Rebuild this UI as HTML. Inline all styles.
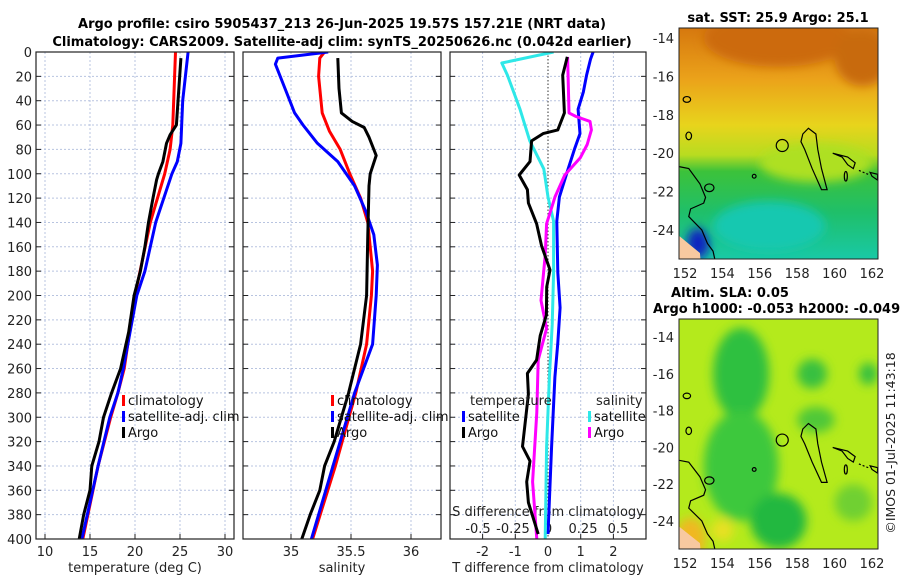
<!DOCTYPE html>
<html><head><meta charset="utf-8"><style>
body{margin:0;background:#fff}
svg{display:block;font-family:"DejaVu Sans","Liberation Sans",sans-serif}
</style></head><body>
<svg id="c" width="900" height="580" viewBox="0 0 900 580">
<defs>
<clipPath id="cp1"><rect x="36" y="52" width="198" height="487"/></clipPath>
<clipPath id="cp2"><rect x="243" y="52" width="198" height="487"/></clipPath>
<clipPath id="cp3"><rect x="450" y="52" width="196" height="487"/></clipPath>
<clipPath id="cm1"><rect x="679" y="28" width="199" height="231"/></clipPath>
<clipPath id="cm2"><rect x="679" y="319" width="199" height="230"/></clipPath>
<linearGradient id="sstg" x1="0" y1="0" x2="0" y2="1">
<stop offset="0" stop-color="#d6780e"/><stop offset="0.22" stop-color="#eba21a"/><stop offset="0.42" stop-color="#e8d41c"/><stop offset="0.55" stop-color="#b8dc20"/><stop offset="0.62" stop-color="#3cc23a"/><stop offset="0.8" stop-color="#1fbf6a"/><stop offset="1" stop-color="#19c9a6"/>
</linearGradient>
<filter id="bl"><feGaussianBlur stdDeviation="5"/></filter>
</defs>
<g font-weight="bold" font-size="13" text-anchor="middle" fill="#000">
<text x="342" y="28">Argo profile: csiro 5905437_213 26-Jun-2025 19.57S 157.21E (NRT data)</text>
<text x="342" y="46">Climatology: CARS2009. Satellite-adj clim: synTS_20250626.nc (0.042d earlier)</text>
</g>
<g id="axes"></g>
<g id="maps"></g>
</svg>
<script>
// ---- data (depth in m) ----
const depthTicks=[0,20,40,60,80,100,120,140,160,180,200,220,240,260,280,300,320,340,360,380,400];
const tTicks=[10,15,20,25,30];
const sTicks=[35,35.5,36];
const dtTicks=[-2,-1,0,1,2];
const dsTicks=[-0.5,-0.25,0,0.25,0.5];
const dsTickLabels=["-0.5","-0.25","0","0.25","0.5"];
// temperature panel
const tClimD=[0,60,80,100,140,200,260,280,300,340,400];
const tClimV=[24.5,24.2,23.9,23.3,21.7,20.0,18.8,18.1,17.3,15.9,14.2];
const tSatD=[0,20,40,75,90,100,140,180,200,260,280,300,340,400];
const tSatV=[25.9,25.6,25.3,25.1,24.7,24.1,22.3,21.1,20.2,18.7,18.1,17.2,15.9,14.1];
const tArgoD=[5,60,68,75,90,100,105,120,140,160,180,200,230,260,280,300,320,340,360,380,400];
const tArgoV=[25.1,24.6,23.9,23.5,23.1,22.6,22.4,22.0,21.5,21.1,20.6,19.9,19.3,18.4,17.4,16.5,16.0,15.2,15.0,14.3,13.8];
// salinity panel
const sClimD=[0,5,20,50,65,80,100,120,140,180,200,240,280,340,400];
const sClimV=[35.28,35.24,35.23,35.26,35.32,35.41,35.49,35.58,35.64,35.68,35.67,35.63,35.54,35.37,35.18];
const sSatD=[0,5,10,30,50,60,75,90,110,130,150,175,200,240,280,340,400];
const sSatV=[35.31,34.89,34.87,34.95,35.03,35.10,35.22,35.39,35.53,35.62,35.69,35.72,35.71,35.68,35.53,35.35,35.17];
const sArgoD=[5,30,50,57,62,70,85,100,110,150,200,240,280,320,340,360,380,400];
const sArgoV=[35.39,35.40,35.42,35.51,35.61,35.65,35.71,35.66,35.65,35.64,35.63,35.58,35.48,35.36,35.28,35.24,35.16,35.09];
// difference panel
const dtSatD=[0,6,19,33,47,67,79,99,119,139,181,210,239,267,324,396];
const dtSatV=[1.38,1.3,1.18,1.08,0.92,0.98,0.82,0.58,0.35,0.27,0.3,0.37,0.3,0.21,0.11,0.0];
const dtArgoD=[4,19,50,64,67,73,90,101,113,124,141,159,179,193,216,233,253,264,281,324,336,353,370,396];
const dtArgoV=[0.59,0.45,0.5,0.3,-0.15,-0.5,-0.55,-0.88,-0.63,-0.6,-0.35,-0.2,0.06,-0.04,-0.05,-0.24,-0.35,-0.63,-0.6,-0.78,-0.55,-0.65,-0.6,-0.3];
const dsSatD=[0,9,19,47,73,96,119,139,181,224,267,324,400];
const dsSatV=[0.04,-0.33,-0.29,-0.2,-0.13,-0.03,0.0,0.04,0.04,0.03,0.01,-0.01,-0.02];
const dsArgoD=[4,50,53,57,64,76,87,101,119,141,167,204,227,253,296,353,400];
const dsArgoV=[0.14,0.15,0.2,0.3,0.31,0.28,0.23,0.12,0.05,-0.01,-0.02,-0.05,-0.01,-0.07,-0.08,-0.11,-0.08];

const NS='http://www.w3.org/2000/svg';
const yD=d=>52+d*487/400;
const xT=v=>45+(v-10)*9;
const xS=v=>291+(v-35)*120;
const xDT=v=>548+v*32.7;
const xDS=v=>548+v*140;
const ax=document.getElementById('axes');
function el(tag,attrs,parent){const e=document.createElementNS(NS,tag);for(const k in attrs)e.setAttribute(k,attrs[k]);(parent||ax).appendChild(e);return e;}
function txt(x,y,s,anchor,size,parent){const t=el('text',{x:x,y:y,'text-anchor':anchor||'middle','font-size':size||13,fill:'#222'},parent);t.textContent=s;return t;}

const panels=[{x0:36,w:198},{x0:243,w:198},{x0:450,w:196}];
panels.forEach((p,i)=>{
  depthTicks.forEach(d=>{
    const g=el('line',{x1:p.x0,x2:p.x0+p.w,y1:yD(d),y2:yD(d),stroke:'#b8c4e0','stroke-width':1,'stroke-dasharray':'2,2'});
    
    
    el('line',{x1:p.x0,x2:p.x0+5,y1:yD(d),y2:yD(d),stroke:'#222'});
    el('line',{x1:p.x0+p.w-5,x2:p.x0+p.w,y1:yD(d),y2:yD(d),stroke:'#222'});
  });
});
depthTicks.forEach(d=>{const t=txt(32,yD(d)+5,String(d),'end',13);

});
function vgrid(xs,fn){xs.forEach(v=>{const g=el('line',{x1:fn(v),x2:fn(v),y1:52,y2:539,stroke:'#b8c4e0','stroke-dasharray':'2,2'});


el('line',{x1:fn(v),x2:fn(v),y1:534,y2:539,stroke:'#222'});});}
vgrid(tTicks,xT);vgrid(sTicks,xS);vgrid([-2,-1,1,2],xDT);
tTicks.forEach(v=>{const t=txt(xT(v),556,String(v));});
sTicks.forEach(v=>{const t=txt(xS(v),556,String(v));});
dtTicks.forEach(v=>{const t=txt(xDT(v),556,String(v));});
dsTicks.forEach((v,i)=>{const t=txt(xDS(v),533,dsTickLabels[i]);});
let t;
t=txt(135,572,'temperature (deg C)');
t=txt(342,572,'salinity');
t=txt(548,572,'T difference from climatology');
t=txt(548,516,'S difference from climatology');
const z=el('line',{x1:548,x2:548,y1:52,y2:539,stroke:'#333','stroke-dasharray':'1.5,2'});


function series(D,V,fx,color,cp,name){
  const pts=D.map((d,i)=>fx(V[i]).toFixed(1)+','+yD(d).toFixed(1)).join(' ');
  const p=el('polyline',{points:pts,fill:'none',stroke:color,'stroke-width':3,'stroke-linejoin':'round','clip-path':'url(#'+cp+')'});
  
  
}
series(tClimD,tClimV,xT,'#f00','cp1','temperature-climatology-line');
series(tSatD,tSatV,xT,'#00f','cp1','temperature-satellite-line');
series(tArgoD,tArgoV,xT,'#000','cp1','temperature-argo-line');
series(sClimD,sClimV,xS,'#f00','cp2','salinity-climatology-line');
series(sSatD,sSatV,xS,'#00f','cp2','salinity-satellite-line');
series(sArgoD,sArgoV,xS,'#000','cp2','salinity-argo-line');
series(dtSatD,dtSatV,xDT,'#00f','cp3','t-diff-satellite-line');
series(dsSatD,dsSatV,xDS,'#2ee8e8','cp3','s-diff-satellite-line');
series(dsArgoD,dsArgoV,xDS,'#f0f','cp3','s-diff-argo-line');
series(dtArgoD,dtArgoV,xDT,'#000','cp3','t-diff-argo-line');
function leg(x,y,color,label,name){
  const r=el('rect',{x:x,y:y-10,width:3,height:11,fill:color});
  
  const tt=txt(x+6,y,label,'start',13);tt.setAttribute('fill','#111');
  
}
leg(122,405,'#f00','climatology','legend-climatology');
leg(122,421,'#00f','satellite-adj. clim','legend-satellite-adj');
leg(122,437,'#000','Argo','legend-argo');
leg(331,405,'#f00','climatology','legend-climatology-2');
leg(331,421,'#00f','satellite-adj. clim','legend-satellite-adj-2');
leg(331,437,'#000','Argo','legend-argo-2');
t=txt(470,405,'temperature','start',13);
leg(462,421,'#00f','satellite','legend-t-satellite');
leg(462,437,'#000','Argo','legend-t-argo');
t=txt(596,405,'salinity','start',13);
leg(588,421,'#2ee8e8','satellite','legend-s-satellite');
leg(588,437,'#f0f','Argo','legend-s-argo');
panels.forEach(p=>{const f=el('rect',{x:p.x0,y:52,width:p.w,height:487,fill:'none',stroke:'#222','stroke-width':1.2});
});

// ---- maps ----
const mg=document.getElementById('maps');
const lonTicks=[152,154,156,158,160,162];
const latTicks=[-14,-16,-18,-20,-22,-24];
function map(y0,h,lat14,latScale,cp,bgFill,blobs,name){
  const lx=l=>685+(l-152)*18.7;
  const ly=l=>lat14+(-14-l)*latScale;
  const g=el('g',{'clip-path':'url(#'+cp+')'},mg);
  
  el('rect',{x:679,y:y0,width:199,height:h,fill:bgFill},g);
  const bg=el('g',{filter:'url(#bl)'},g);
  blobs.forEach(b=>el('ellipse',{cx:lx(b[0]),cy:ly(b[1]),rx:b[2]*18.7,ry:b[3]*latScale,fill:b[4]},bg));
  el('path',{d:`M679,${ly(-24.3)} L${lx(152.3)},${ly(-24.8)} L${lx(152.8)},${ly(-25.2)} L${lx(152.9)},${ly(-26.5)} L679,${ly(-26.5)}Z`,fill:'#f8c9a0'},g);
  const cs={fill:'none',stroke:'#000','stroke-width':1.2};
  el('path',Object.assign({d:`M679,${ly(-20.7)} L${lx(152.2)},${ly(-20.8)} L${lx(152.8)},${ly(-21.6)} L${lx(153.1)},${ly(-22.3)} L${lx(153.0)},${ly(-22.6)} L${lx(152.3)},${ly(-22.9)} L${lx(152.2)},${ly(-23.3)} L${lx(152.9)},${ly(-24.0)} L${lx(153.2)},${ly(-24.7)} L${lx(153.5)},${ly(-25.1)} L${lx(153.7)},${ly(-26)}`},cs),g);
  el('path',Object.assign({d:`M${lx(158.3)},${ly(-19.0)} L${lx(158.6)},${ly(-18.7)} L${lx(159.0)},${ly(-19.0)} L${lx(159.1)},${ly(-19.8)} L${lx(159.3)},${ly(-20.8)} L${lx(159.6)},${ly(-21.9)} L${lx(159.3)},${ly(-21.9)} L${lx(158.8)},${ly(-20.8)} L${lx(158.4)},${ly(-19.8)} L${lx(158.2)},${ly(-19.4)}Z`},cs),g);
  el('path',Object.assign({d:`M${lx(159.9)},${ly(-20.0)} L${lx(160.7)},${ly(-20.2)} L${lx(161.1)},${ly(-20.5)} L${lx(161)},${ly(-20.8)} L${lx(160.7)},${ly(-20.6)} L${lx(160.4)},${ly(-20.2)}Z`},cs),g);
  el('path',Object.assign({d:`M${lx(161.3)},${ly(-20.9)} L${lx(161.8)},${ly(-21.1)}`,'stroke-dasharray':'2,2'},cs),g);
  el('path',Object.assign({d:`M${lx(161.9)},${ly(-21.0)} L${lx(162.3)},${ly(-21.1)} L${lx(162.3)},${ly(-21.4)} L${lx(162)},${ly(-21.2)}Z`},cs),g);
  [[152.2,-19.1,0.15,0.2],[153.3,-21.8,0.25,0.2],[155.7,-21.2,0.1,0.1],[160.6,-21.2,0.08,0.25],[152.1,-17.2,0.2,0.15]].forEach(r=>el('ellipse',Object.assign({cx:lx(r[0]),cy:ly(r[1]),rx:r[2]*18.7,ry:r[3]*latScale},cs),g));
  el('circle',{cx:lx(157.2),cy:ly(-19.6),r:6,fill:'none',stroke:'#000','stroke-width':1.2},g);
  const f=el('rect',{x:679,y:y0,width:199,height:h,fill:'none',stroke:'#222'},mg);
  
  lonTicks.forEach(l=>{const tt=txt(lx(l),y0+h+19,String(l),'middle',13,mg);});
  latTicks.forEach(l=>{const tt=txt(674,ly(l)+5,String(l),'end',13,mg);});
}
map(28,231,38,19.2,'cm1','url(#sstg)',[[157,-14,4,1.5,'#cc6a0a'],[161.5,-15,1.5,1.5,'#c86a10'],[159,-20.5,3,1,'#aee022'],[156.5,-23.8,3,1.3,'#14c8b0'],[152.7,-24.7,0.6,0.8,'#0a20c0']],'sst-map');
map(319,230,337,18.4,'cm2','#b4ea1c',[[155,-16,1.5,2.5,'#2ec040'],[155,-21,2,3,'#3cc83c'],[157,-24,1.5,1.5,'#20b840'],[158.8,-16,0.8,0.8,'#38c040'],[161.8,-16,0.5,0.6,'#38c040'],[159,-18.5,1,0.7,'#50c838'],[161,-23,1,1,'#70d030'],[152.3,-25,0.8,1.2,'#f0b820'],[154,-24.5,0.6,0.6,'#e8e020']],'sla-map');
t=txt(778,22,'sat. SST: 25.9 Argo: 25.1','middle',13,mg);t.setAttribute('font-weight','bold');t.setAttribute('fill','#000');

t=txt(730,297,'Altim. SLA: 0.05','middle',13,mg);t.setAttribute('font-weight','bold');t.setAttribute('fill','#000');

t=txt(653,313,'Argo h1000: -0.053 h2000: -0.049','start',13,mg);t.setAttribute('font-weight','bold');t.setAttribute('fill','#000');

t=txt(0,0,'©IMOS 01-Jul-2025 11:43:18','middle',12.5,mg);t.setAttribute('transform','translate(895,443) rotate(-90)');

</script>
</body></html>
